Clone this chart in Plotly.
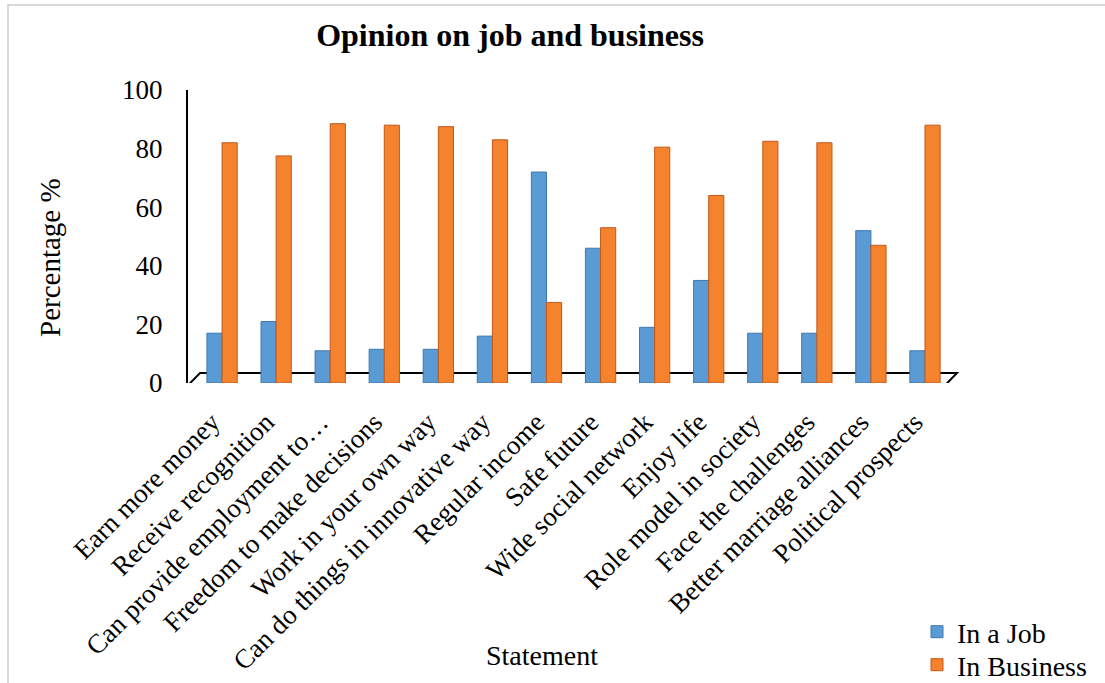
import plotly.graph_objects as go

categories = [
    "Earn more money", "Receive recognition", "Can provide employment to…",
    "Freedom to make decisions", "Work in your own way",
    "Can do things in innovative way", "Regular income", "Safe future",
    "Wide social network", "Enjoy life", "Role model in society",
    "Face the challenges", "Better marriage alliances", "Political prospects",
]
in_a_job = [17, 21, 11, 11.5, 11.5, 16, 72, 46, 19, 35, 17, 17, 52, 11]
in_business = [82, 77.5, 88.5, 88, 87.5, 83, 27.5, 53, 80.5, 64, 82.5, 82, 47, 88]
y_ticks = [0, 20, 40, 60, 80, 100]

FONT = "Liberation Serif, Times New Roman, serif"
W, H = 1105, 683
L, R, T, B = 188, 160, 90, 300
pw = W - L - R
ph = H - T - B

fig = go.Figure()
fig.add_trace(go.Bar(
    x=categories, y=in_a_job, name="In a Job", legend="legend", showlegend=True,
    marker=dict(color="#5B9BD5", line=dict(color="#3F78AD", width=1)),
))
fig.add_trace(go.Bar(
    x=categories, y=in_business, name="In Business", legend="legend2", showlegend=True,
    marker=dict(color="#F5832E", line=dict(color="#C0591A", width=1)),
))

# 3D-like floor
dx = 12 / pw
dy = 3.4
fig.add_shape(type="path", xref="paper", yref="y", layer="below",
              path=f"M 0 -0.8 L 1 -0.8 L {1+dx} {dy} L {dx} {dy} Z",
              line=dict(color="black", width=2), fillcolor="white")

# outer border
fig.add_shape(type="rect", xref="paper", yref="paper",
              x0=(8 - L) / pw, x1=(W + 5 - L) / pw,
              y0=-(B + 5) / ph, y1=1 + (T - 5) / ph,
              line=dict(color="#D9D9D9", width=2))

leg_common = dict(xref="container", yref="container", xanchor="left", yanchor="middle",
                  font=dict(size=28, family=FONT), itemwidth=30,
                  bgcolor="rgba(0,0,0,0)", visible=True)

fig.update_layout(
    width=W, height=H, showlegend=True,
    margin=dict(l=L, r=R, t=T, b=B, autoexpand=False),
    paper_bgcolor="white", plot_bgcolor="rgba(0,0,0,0)",
    barmode="group", bargap=0.44, bargroupgap=0,
    font=dict(family=FONT, color="black"),
    title=dict(text="<b>Opinion on job and business</b>", x=510 / W, xref="container",
               xanchor="center", y=1 - 35 / H, yanchor="middle", yref="container",
               font=dict(size=32, family=FONT, color="black")),
    xaxis=dict(range=[-0.63, 13.37], tickangle=-45, tickfont=dict(size=27, color="black"),
               showline=False, showgrid=False, ticks="", ticklen=0,
               ticklabelshift=-10, ticklabelstandoff=17),
    yaxis=dict(range=[0, 100], tickvals=y_ticks, tickfont=dict(size=27, color="black"),
               showline=True, linecolor="black", linewidth=2, showgrid=False,
               zeroline=False, ticks="", ticklabelstandoff=18),
    legend=dict(x=917 / W, y=1 - 632 / H, **leg_common),
    legend2=dict(x=917 / W, y=1 - 665 / H, **leg_common),
    annotations=[
        dict(text="Percentage %", xref="paper", yref="paper",
             x=(50 - L) / pw, y=(383 - 258) / ph, textangle=-90,
             showarrow=False, font=dict(size=29, family=FONT),
             xanchor="center", yanchor="middle"),
        dict(text="Statement", xref="paper", yref="paper",
             x=(542 - L) / pw, y=-(655 - 383) / ph,
             showarrow=False, font=dict(size=28, family=FONT),
             xanchor="center", yanchor="middle"),
    ],
)

fig.write_html("out.html", config={"displayModeBar": False},
               post_script="document.body.style.margin='0';document.body.style.padding='0';")
